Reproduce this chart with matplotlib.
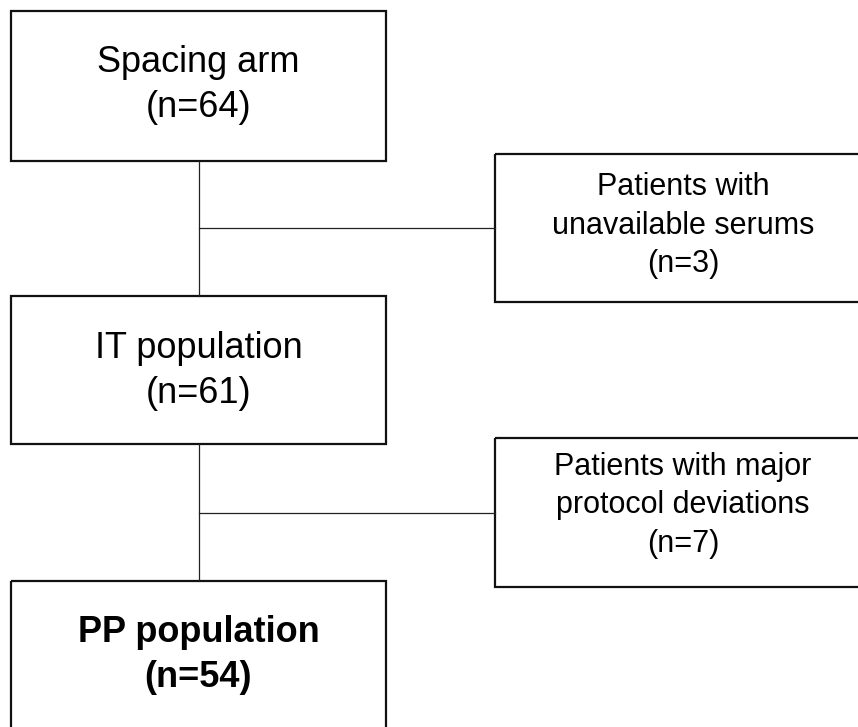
import matplotlib.pyplot as plt
from matplotlib.patches import Rectangle

# flow data
main_labels = ['Spacing arm', 'IT population', 'PP population']
main_n = [64, 61, 54]
excl_labels = [['Patients with', 'unavailable serums'],
               ['Patients with major', 'protocol deviations']]
excl_n = [3, 7]

plt.rcParams['font.family'] = ['Liberation Sans', 'DejaVu Sans']
FS_MAIN = 26
FS_EXCL = 22

fig = plt.figure(figsize=(8.58, 7.27), dpi=100)
ax = fig.add_axes([0, 0, 1, 1])
ax.set_xlim(0, 858)
ax.set_ylim(727, 0)
ax.axis('off')

# main column boxes (top, bottom), first baseline
main_y = [(11, 161), (296, 444), (581, 730)]
main_base = [72, 358, 642]
left, right = 11, 386
cx = (left + right) / 2
for i, (lab, n) in enumerate(zip(main_labels, main_n)):
    top, bot = main_y[i]
    ax.add_patch(Rectangle((left, top), right - left, bot - top, fill=False,
                           ec='#111111', lw=1.6))
    weight = 'bold' if i == len(main_labels) - 1 else 'normal'
    b = main_base[i]
    ax.text(cx, b, lab, ha='center', va='baseline', fontsize=FS_MAIN, weight=weight)
    ax.text(cx, b + 45, '(n=%d)' % n, ha='center', va='baseline', fontsize=FS_MAIN, weight=weight)

# connectors
for i in range(len(main_y) - 1):
    ax.plot([199, 199], [main_y[i][1], main_y[i + 1][0]], color='#222222', lw=0.9)

# exclusion boxes
excl_y = [(154, 302), (438, 587)]
excl_base = [195, 475]
ex_left, ex_right = 495, 872
ex_cx = 683
for i, (lines, n) in enumerate(zip(excl_labels, excl_n)):
    top, bot = excl_y[i]
    ax.add_patch(Rectangle((ex_left, top), ex_right - ex_left, bot - top, fill=False,
                           ec='#111111', lw=1.6))
    mid = (top + bot) / 2
    ax.plot([199, ex_left], [mid, mid], color='#222222', lw=0.9)
    rows = lines + ['(n=%d)' % n]
    for k, r in enumerate(rows):
        ax.text(ex_cx, excl_base[i] + k * 38.5, r, ha='center', va='baseline', fontsize=FS_EXCL)

fig.savefig('out.png', dpi=100)
